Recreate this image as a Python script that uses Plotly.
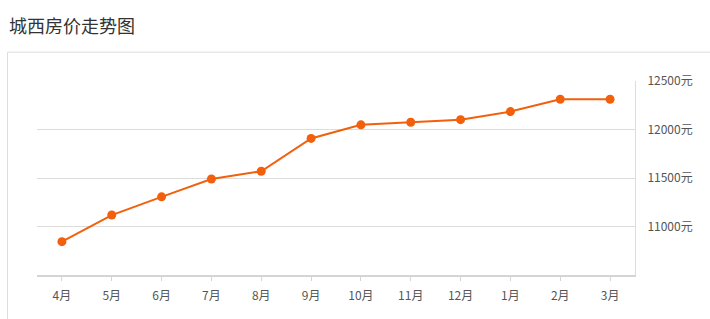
import plotly.graph_objects as go

months = ["4月", "5月", "6月", "7月", "8月", "9月", "10月", "11月", "12月", "1月", "2月", "3月"]
prices = [10847, 11120, 11307, 11490, 11570, 11907, 12047, 12073, 12100, 12183, 12310, 12310]
y_ticks = [11000, 11500, 12000, 12500]
y_labels = [f"{v}元" for v in y_ticks]

W, H = 710, 319
font = "Noto Sans CJK SC, Microsoft YaHei, sans-serif"

fig = go.Figure()
fig.add_trace(go.Scatter(
    x=list(range(len(months))), y=prices, mode="lines+markers",
    line=dict(color="#f2600c", width=2),
    marker=dict(color="#f2600c", size=9),
    hoverinfo="x+y",
))

fig.update_layout(
    width=W, height=H,
    margin=dict(l=0, r=0, t=0, b=0),
    paper_bgcolor="white", plot_bgcolor="white",
    showlegend=False,
    font=dict(family=font, size=12, color="#555"),
    xaxis=dict(
        domain=[37 / W, 635 / W],
        range=[-0.5, len(months) - 0.5],
        tickmode="array", tickvals=list(range(len(months))), ticktext=months,
        showgrid=False, zeroline=False,
        showline=True, linecolor="#d4d4d4", linewidth=2,
        ticks="outside", ticklen=4, tickcolor="#d4d4d4",
        ticklabelstandoff=4,
        tickfont=dict(size=12, color="#555"),
        fixedrange=True,
    ),
    yaxis=dict(
        domain=[(H - 274) / H, (H - 73) / H],
        range=[10500, 12500],
        side="right",
        tickmode="array", tickvals=y_ticks, ticktext=y_labels,
        showgrid=True, gridcolor="#dcdcdc", gridwidth=1,
        zeroline=False,
        showline=True, linecolor="#dcdcdc", linewidth=1,
        ticks="", ticklabelstandoff=9,
        tickfont=dict(size=12, color="#555"),
        fixedrange=True,
    ),
    shapes=[dict(
        type="rect", xref="paper", yref="paper",
        x0=7.5 / W, x1=1.05, y0=-0.1, y1=(H - 43.5) / H,
        line=dict(color="#dddddd", width=1), fillcolor="rgba(0,0,0,0)",
        layer="below",
    )],
    annotations=[dict(
        text="城西房价走势图", xref="paper", yref="paper",
        x=7 / W, y=1 - 15.5 / H, xanchor="left", yanchor="middle",
        showarrow=False, font=dict(family=font, size=18, color="#333"),
    )],
)

fig.write_html("out.html")
